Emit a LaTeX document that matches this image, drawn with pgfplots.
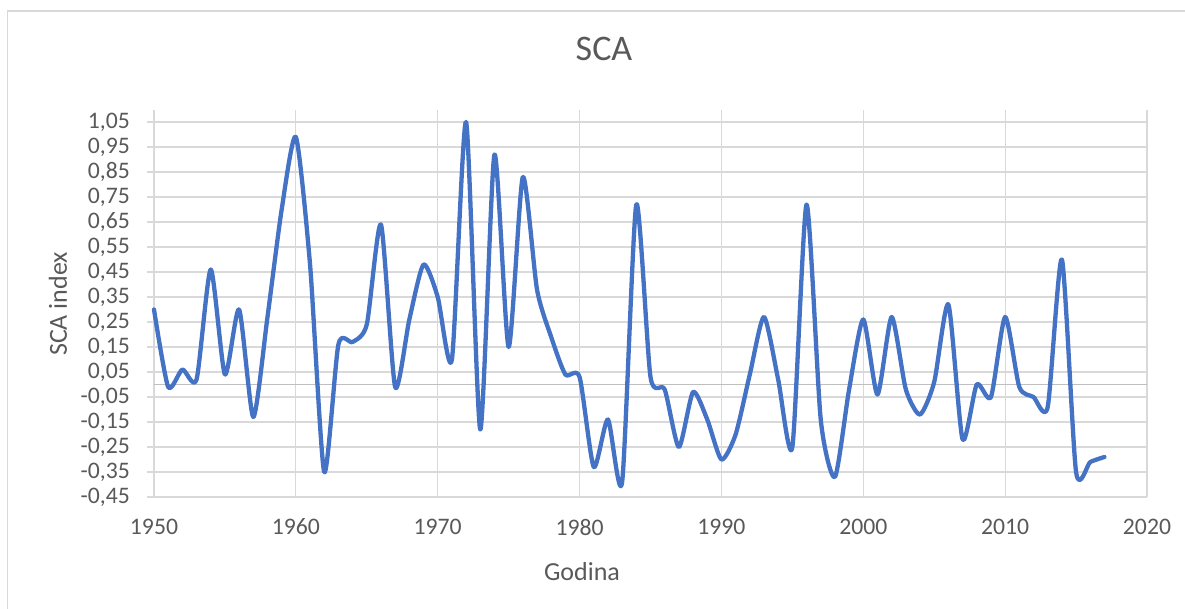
\documentclass[border=0pt]{standalone}
\usepackage{fontspec}
\setmainfont{Carlito}
\usepackage{pgfplots}
\pgfplotsset{compat=1.18}
\definecolor{gridc}{HTML}{D9D9D9}
\definecolor{zeroc}{HTML}{BFBFBF}
\definecolor{txt}{HTML}{595959}
\definecolor{sca}{HTML}{4472C4}
\pgfplotstableread{
year val
1950 0.30
1951 -0.01
1952 0.06
1953 0.02
1954 0.46
1955 0.04
1956 0.30
1957 -0.13
1958 0.27
1959 0.70
1960 0.99
1961 0.48
1962 -0.35
1963 0.16
1964 0.17
1965 0.24
1966 0.64
1967 -0.01
1968 0.26
1969 0.48
1970 0.35
1971 0.10
1972 1.05
1973 -0.18
1974 0.92
1975 0.15
1976 0.83
1977 0.38
1978 0.19
1979 0.04
1980 0.03
1981 -0.33
1982 -0.14
1983 -0.39
1984 0.72
1985 0.03
1986 -0.02
1987 -0.25
1988 -0.03
1989 -0.14
1990 -0.30
1991 -0.20
1992 0.04
1993 0.27
1994 0.02
1995 -0.25
1996 0.72
1997 -0.14
1998 -0.37
1999 -0.02
2000 0.26
2001 -0.04
2002 0.27
2003 -0.02
2004 -0.12
2005 0.01
2006 0.32
2007 -0.22
2008 0.00
2009 -0.05
2010 0.27
2011 -0.01
2012 -0.05
2013 -0.09
2014 0.50
2015 -0.35
2016 -0.31
2017 -0.29
}\scadata
\begin{document}
\begin{tikzpicture}
\path[use as bounding box] (0pt,0pt) rectangle (1185pt,608pt);
\draw[gridc, line width=1.2pt] (7.5pt,-5pt) -- (7.5pt,597pt) -- (1190pt,597pt);
\begin{axis}[
  at={(154pt,111pt)}, anchor=south west,
  scale only axis, width=993pt, height=387pt,
  xmin=1950, xmax=2020, ymin=-0.45, ymax=1.098,
  clip=false,
  axis line style={draw=none},
  xtick={1950,1960,...,2020},
  ytick={-0.45,-0.35,-0.25,-0.15,-0.05,0.05,0.15,0.25,0.35,0.45,0.55,0.65,0.75,0.85,0.95,1.05},
  grid=major,
  grid style={gridc, line width=1.2pt},
  xtick style={draw=none},
  ytick style={gridc, line width=1.2pt},
  ytick align=outside, ytick pos=left, xtick pos=bottom,
  major tick length=7pt,
  xticklabel style={/pgf/number format/set thousands separator={}, /pgf/number format/assume math mode=true, font=\fontsize{23.7}{28}\selectfont, text=txt, anchor=center, yshift=-30pt},
  yticklabel style={/pgf/number format/fixed, /pgf/number format/fixed zerofill, /pgf/number format/precision=2, /pgf/number format/use comma, /pgf/number format/assume math mode=true, font=\fontsize{23.7}{28}\selectfont, text=txt, anchor=east, inner sep=0pt, xshift=-17pt},
  extra y ticks={0},
  extra y tick labels={},
  extra y tick style={grid style={zeroc, line width=1.2pt}, ytick style={draw=none}},
  title={SCA},
  title style={at={(axis description cs:0.4532,1.1421)}, anchor=center, font=\fontsize{36}{40}\selectfont, text=txt},
  xlabel={Godina},
  xlabel style={at={(axis description cs:0.431,-0.1938)}, anchor=center, font=\fontsize{26}{30}\selectfont, text=txt},
  ylabel={SCA index},
  ylabel style={at={(axis description cs:-0.0967,0.4987)}, anchor=center, rotate=0, font=\fontsize{26}{30}\selectfont, text=txt},
]
\addplot[sca, line width=4.3pt, smooth, tension=0.4, line join=round, line cap=round] table[x=year, y=val] {\scadata};
\end{axis}
\end{tikzpicture}
\end{document}
